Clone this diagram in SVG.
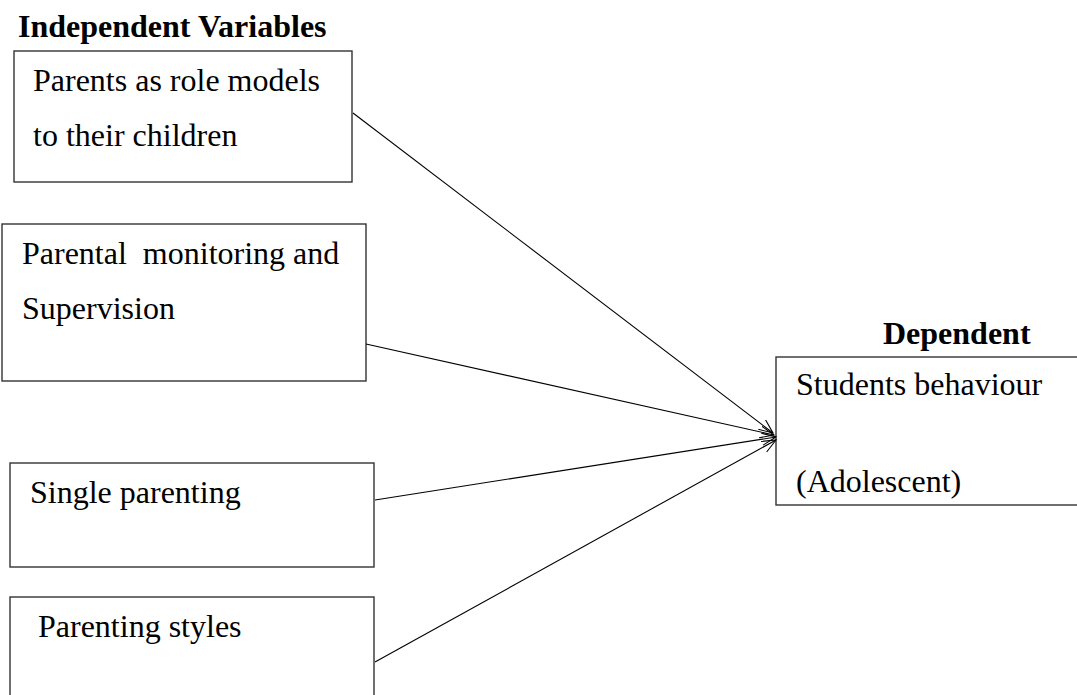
<svg xmlns="http://www.w3.org/2000/svg" width="1077" height="695" viewBox="0 0 1077 695">
<style>
.box{fill:#fff;stroke:#333;stroke-width:1.4}
.b{font-weight:bold}
.c{stroke:#000;stroke-width:1.1;fill:none;marker-end:url(#arr)}
</style>
<defs>
<marker id="arr" markerUnits="userSpaceOnUse" markerWidth="16" markerHeight="14" refX="14" refY="6" orient="auto" viewBox="0 0 16 12">
<path d="M0,0 L14,6 L0,12" fill="none" stroke="#000" stroke-width="1.1"/>
</marker>
</defs>
<rect width="1077" height="695" fill="#fff"/>
<g font-family="Liberation Serif, Times New Roman, serif" font-size="32" fill="#000">
<text class="b" x="18" y="37">Independent Variables</text>
<text class="b" x="883" y="344">Dependent</text>
<g id="node-role-models">
<rect class="box" x="14" y="51" width="338" height="131"/>
<text x="33" y="91">Parents as role models</text>
<text x="33" y="146">to their children</text>
</g>
<g id="node-monitoring">
<rect class="box" x="2" y="224" width="364" height="157"/>
<text x="22" y="264" xml:space="preserve">Parental  monitoring and</text>
<text x="22" y="319">Supervision</text>
</g>
<g id="node-single">
<rect class="box" x="10" y="463" width="364" height="104"/>
<text x="30" y="503">Single parenting</text>
</g>
<g id="node-styles">
<rect class="box" x="10" y="597" width="364" height="110"/>
<text x="38" y="637">Parenting styles</text>
</g>
<g id="node-dependent">
<rect class="box" x="776" y="357" width="310" height="148"/>
<text x="796" y="395">Students behaviour</text>
<text x="796" y="492">(Adolescent)</text>
</g>
</g>
<g id="connectors">
<line class="c" x1="353" y1="113" x2="773" y2="433"/>
<line class="c" x1="366" y1="344" x2="774" y2="435"/>
<line class="c" x1="375" y1="500" x2="776" y2="437"/>
<line class="c" x1="375" y1="662" x2="776" y2="440"/>
</g>
</svg>
